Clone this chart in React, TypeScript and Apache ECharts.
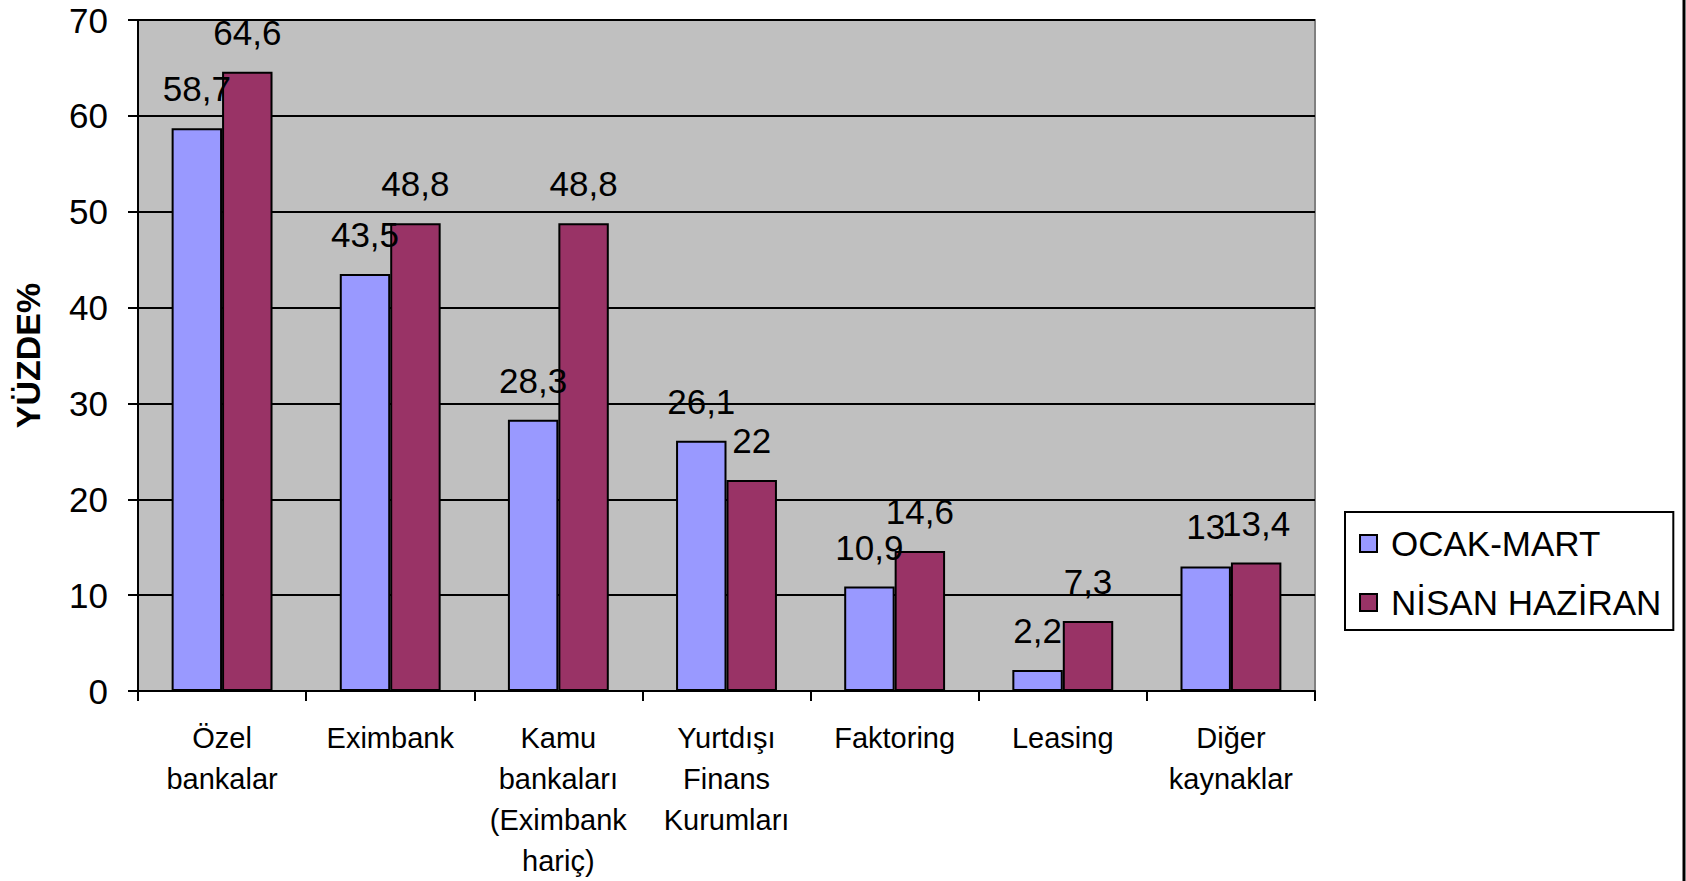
import React, { useEffect, useRef } from "react";
import * as echarts from "echarts";

const categories = [
  "Özel\nbankalar",
  "Eximbank",
  "Kamu\nbankaları\n(Eximbank\nhariç)",
  "Yurtdışı\nFinans\nKurumları",
  "Faktoring",
  "Leasing",
  "Diğer\nkaynaklar",
];
const ocakMart = [58.7, 43.5, 28.3, 26.1, 10.9, 2.2, 13];
const nisanHaziran = [64.6, 48.8, 48.8, 22, 14.6, 7.3, 13.4];
const seriesNames = ["OCAK-MART", "NİSAN HAZİRAN"];
const yAxisTitle = "YÜZDE%";

const FONT = '"Liberation Sans", Arial, sans-serif';

export default function App() {
  const ref = useRef<HTMLDivElement>(null);
  useEffect(() => {
    if (!ref.current) return;
    const chart = echarts.init(ref.current, null, { renderer: "svg" });
    const labelCfg = {
      show: true,
      position: "top",
      distance: 22,
      color: "#000",
      fontSize: 35,
      fontFamily: FONT,
      formatter: (p: any) => String(p.value).replace(".", ","),
    };
    chart.setOption({
      animation: false,
      backgroundColor: "#fff",
      textStyle: { fontFamily: FONT },
      grid: {
        left: 138,
        top: 20,
        right: 371,
        bottom: 188,
        show: true,
        backgroundColor: "#C0C0C0",
        borderColor: "#808080",
        borderWidth: 2,
      },
      legend: {
        orient: "vertical",
        left: 1345,
        top: 512,
        padding: [14, 12, 10, 14],
        backgroundColor: "#fff",
        borderColor: "#000",
        borderWidth: 2,
        borderRadius: 0,
        itemWidth: 17,
        itemHeight: 17,
        itemGap: 24,
        icon: "rect",
        selectedMode: false,
        textStyle: {
          fontSize: 35,
          color: "#000",
          fontFamily: FONT,
          padding: [0, 0, 0, 9],
        },
        data: seriesNames,
      },
      xAxis: {
        type: "category",
        data: categories,
        axisLine: { show: true, lineStyle: { color: "#000", width: 2 } },
        axisTick: {
          show: true,
          alignWithLabel: false,
          length: 10,
          lineStyle: { color: "#000", width: 2 },
        },
        axisLabel: {
          interval: 0,
          margin: 26,
          fontSize: 29,
          lineHeight: 41,
          color: "#000",
          fontFamily: FONT,
        },
      },
      yAxis: {
        type: "value",
        min: 0,
        max: 70,
        interval: 10,
        name: yAxisTitle,
        nameLocation: "middle",
        nameRotate: 90,
        nameGap: 93,
        nameTextStyle: {
          fontSize: 34,
          fontWeight: "bold",
          color: "#000",
          fontFamily: FONT,
        },
        axisLine: { show: true, lineStyle: { color: "#000", width: 2 } },
        axisTick: { show: true, length: 10, lineStyle: { color: "#000", width: 2 } },
        axisLabel: { margin: 30, fontSize: 35, color: "#000", fontFamily: FONT },
        splitLine: { show: true, lineStyle: { color: "#000", width: 2 } },
      },
      series: [
        {
          name: seriesNames[0],
          type: "bar",
          data: ocakMart,
          barGap: "0%",
          barCategoryGap: "40%",
          itemStyle: { color: "#9999FF", borderColor: "#000", borderWidth: 2 },
          label: labelCfg,
        },
        {
          name: seriesNames[1],
          type: "bar",
          data: nisanHaziran,
          barGap: "0%",
          barCategoryGap: "40%",
          itemStyle: { color: "#993366", borderColor: "#000", borderWidth: 2 },
          label: labelCfg,
        },
      ],
      graphic: [
        {
          type: "line",
          shape: { x1: 1684, y1: 0, x2: 1684, y2: 881 },
          style: { stroke: "#000", lineWidth: 3 },
        },
      ],
    });
    return () => chart.dispose();
  }, []);
  return (
    <div
      ref={ref}
      style={{ position: "fixed", left: 0, top: 0, width: 1686, height: 881 }}
    />
  );
}
